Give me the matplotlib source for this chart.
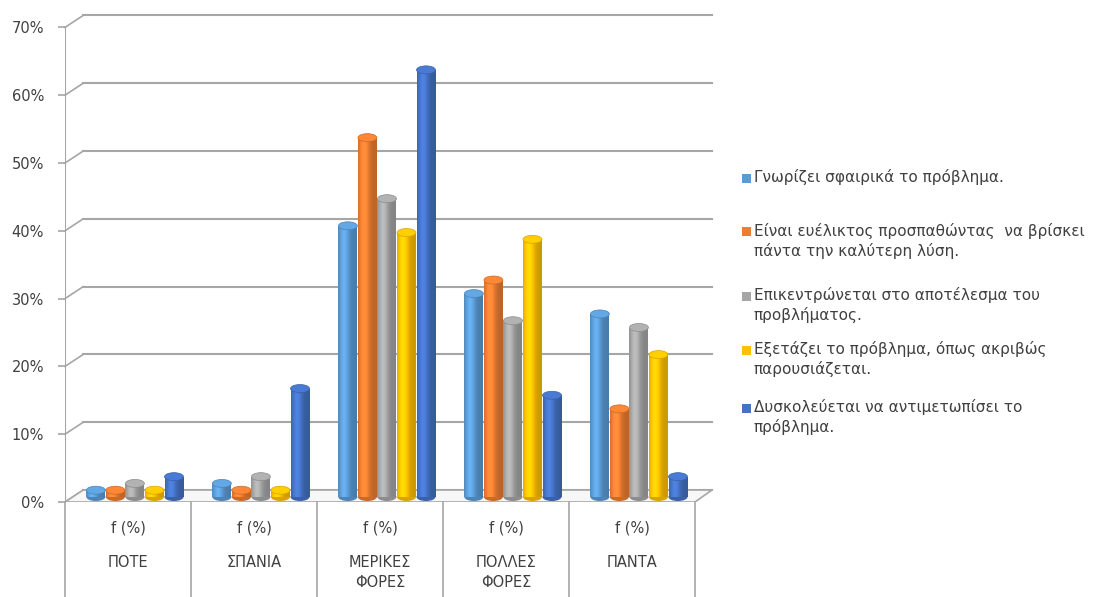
import numpy as np
import matplotlib
matplotlib.use("Agg")
import matplotlib.pyplot as plt
from matplotlib.patches import Ellipse, Polygon, Rectangle
from matplotlib.colors import to_rgb

plt.rcParams['font.family'] = ['DejaVu Sans']

# data
categories = ['ΠΟΤΕ', 'ΣΠΑΝΙΑ', 'ΜΕΡΙΚΕΣ\nΦΟΡΕΣ', 'ΠΟΛΛΕΣ\nΦΟΡΕΣ', 'ΠΑΝΤΑ']
sub_label = 'f (%)'
series_names = [
    'Γνωρίζει σφαιρικά το πρόβλημα.',
    'Είναι ευέλικτος προσπαθώντας  να βρίσκει\nπάντα την καλύτερη λύση.',
    'Επικεντρώνεται στο αποτέλεσμα του\nπροβλήματος.',
    'Εξετάζει το πρόβλημα, όπως ακριβώς\nπαρουσιάζεται.',
    'Δυσκολεύεται να αντιμετωπίσει το\nπρόβλημα.',
]
gnorizei = [0.01, 0.02, 0.40, 0.30, 0.27]
evelik = [0.01, 0.01, 0.53, 0.32, 0.13]
epikentr = [0.02, 0.03, 0.44, 0.26, 0.25]
exetazei = [0.01, 0.01, 0.39, 0.38, 0.21]
dyskol = [0.03, 0.16, 0.63, 0.15, 0.03]
series = [gnorizei, evelik, epikentr, exetazei, dyskol]
colors = ['#5B9BD5', '#ED7D31', '#A5A5A5', '#FFC000', '#4472C4']
yticks = [0, 0.1, 0.2, 0.3, 0.4, 0.5, 0.6, 0.7]

# geometry (pixels of the 1097x597 picture)
W, H = 1097, 597
CAT_PX = 126.0
UNIT_PX = 678.0
x0_px, y0_px = 65, 497
front = -5 / UNIT_PX      # front edge of the floor
back = 7 / UNIT_PX        # back wall offset
depth_x = 17 / CAT_PX
grid_c = '#A6A6A6'
txt_c = '#404040'

fig = plt.figure(figsize=(W / 100, H / 100), dpi=100)
left, right, top, bottom = 65, 712, 16, 502
ax = fig.add_axes([left / W, 1 - bottom / H, (right - left) / W, (bottom - top) / H])
ax.set_xlim(0, (right - left) / CAT_PX)
ax.set_ylim((y0_px - bottom) / UNIT_PX, (y0_px - top) / UNIT_PX)
for s in ax.spines.values():
    s.set_visible(False)
ax.set_xticks([])
xmax = ax.get_xlim()[1]
n = len(categories)

# back wall gridlines with diagonal connectors
for v in yticks:
    ax.plot([depth_x + 0.01, xmax], [v + back] * 2, color=grid_c, lw=1.5,
            zorder=1, clip_on=False)
    ax.plot([0, depth_x + 0.01], [v + front, v + back], color=grid_c, lw=1.2,
            zorder=1, clip_on=False)

# floor
floor = Polygon([[0, front], [depth_x + 0.01, back], [xmax, back], [n, front]],
                closed=True, facecolor='#F7F7F7', edgecolor=grid_c, lw=1.2, zorder=1.5)
ax.add_patch(floor)

# vertical axis
ax.plot([0, 0], [front, yticks[-1] + front], color=grid_c, lw=1.5, zorder=2)
ax.set_yticks([v + front for v in yticks])
ax.set_yticklabels([f'{int(round(v * 100))}%' for v in yticks])
ax.tick_params(axis='y', length=5, width=1.2, color=grid_c, labelcolor=txt_c,
               labelsize=10.5, pad=10)

# bars (cylinders)
bw = 0.155
shift = 0.055
x = np.arange(n)
profile_t = np.linspace(0, 1, 64)
shade = 0.8 + 0.35 * np.exp(-((profile_t - 0.32) / 0.28) ** 2)
cap_h = 8 / UNIT_PX
for i, (vals, c) in enumerate(zip(series, colors)):
    pos = x + 0.5 + shift + (i - 2) * bw
    bars = ax.bar(pos, vals, width=bw * 0.97, color=c, zorder=3, linewidth=0)
    rgb = np.array(to_rgb(c))
    grad = np.clip(rgb[None, None, :] * shade[None, :, None], 0, 1)
    for b, v in zip(bars, vals):
        bx, bwid = b.get_x(), b.get_width()
        # bottom rounding
        ax.add_patch(Ellipse((bx + bwid / 2, 0), bwid, cap_h,
                             facecolor=tuple(rgb * 0.85), lw=0, zorder=2.9))
        im = ax.imshow(grad, extent=[bx, bx + bwid, 0, v], aspect='auto',
                       zorder=3.1, interpolation='bilinear')
        im.set_clip_path(b)
        ax.add_patch(Ellipse((bx + bwid / 2, v), bwid, cap_h,
                             facecolor=tuple(np.clip(rgb * 1.08, 0, 1)),
                             edgecolor=tuple(rgb * 0.85), lw=0.5, zorder=3.2))
    ax.set_xlim(0, xmax)

# category table below the axis
y_bot = (y0_px - H) / UNIT_PX
for k in range(n + 1):
    ax.plot([k, k], [front, y_bot], color=grid_c, lw=1.2, clip_on=False, zorder=2)
for k, name in enumerate(categories):
    ax.text(k + 0.5, (y0_px - 528) / UNIT_PX, sub_label, ha='center', va='center',
            fontsize=10.5, color=txt_c)
    ax.text(k + 0.5, (y0_px - 555) / UNIT_PX, name, ha='center', va='top',
            fontsize=10.5, color=txt_c, linespacing=1.4)

# legend drawn by hand, square beside first line
leg_y = [178, 232, 296, 350, 408]
for name, c, py in zip(series_names, colors, leg_y):
    fig.patches.append(Rectangle((742 / W, 1 - (py + 4.5) / H), 9 / W, 9 / H,
                                 transform=fig.transFigure, facecolor=c, lw=0))
    fig.text(754 / W, 1 - (py - 9) / H, name, ha='left', va='top', fontsize=11,
             color=txt_c, linespacing=1.3)

fig.savefig('out.png', dpi=100)
